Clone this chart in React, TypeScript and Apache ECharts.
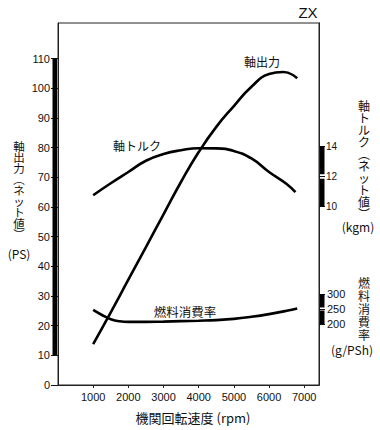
import React, { useEffect, useRef } from "react";
import * as echarts from "echarts";

// ---- data ----
const rpmTicks = [1000, 2000, 3000, 4000, 5000, 6000, 7000];
const powerTicks = [0, 10, 20, 30, 40, 50, 60, 70, 80, 90, 100, 110];
const torqueTicks = [10, 12, 14];
const fuelTicks = [200, 250, 300];

// 軸出力 (PS)
const powerData: [number, number][] = [
  [1000, 13.8], [1500, 24.5], [2000, 35.5], [2500, 46.5], [3000, 57.5],
  [3500, 68.5], [4000, 78.5], [4500, 87], [5000, 94], [5500, 100.5],
  [6000, 104.8], [6400, 105.5], [6800, 103.4],
];
// 軸トルク (kgm)
const torqueData: [number, number][] = [
  [1000, 10.75], [1500, 11.55], [2000, 12.3], [2500, 13.05], [3000, 13.5],
  [3500, 13.75], [4000, 13.88], [4500, 13.87], [5000, 13.7], [5500, 13.2],
  [6000, 12.3], [6500, 11.5], [6750, 10.95],
];
// 燃料消費率 (g/PSh)
const fuelData: [number, number][] = [
  [1000, 247], [1250, 230], [1500, 216], [1750, 209], [2000, 207],
  [2500, 207], [3000, 208], [3500, 209.5], [4000, 211], [4500, 213],
  [5000, 217], [5500, 224], [6000, 233], [6500, 244], [6800, 252],
];

// axis extents
const X_MIN = 0;
const X_MAX = 7420;
const POWER_RANGE = [0, 122];
const TORQUE_RANGE = [-1.9, 22.23];
const FUEL_RANGE = [-3.33, 1203.33];

// thick scale bars beside the axes: [x, from, to, side]
const powerBar = [[X_MIN, 10, 110, -1]];
const torqueBars = [[X_MAX, 10, 11.85, 1], [X_MAX, 12.15, 14, 1]];
const fuelBars = [[X_MAX, 200, 245, 1], [X_MAX, 255, 300, 1]];

const NUM_FONT = "'Liberation Sans', Arial, sans-serif";
const JP_FONT = "'Noto Sans CJK JP', 'Noto Sans', sans-serif";

function txt(text: string, x: number, y: number, size: number, font = JP_FONT) {
  return {
    type: "text",
    x,
    y,
    style: {
      text,
      fill: "#111",
      fontSize: size,
      fontFamily: font,
      align: "center",
      verticalAlign: "middle",
      textAlign: "center",
      textVerticalAlign: "middle",
    },
  };
}

function column(chars: string[], x: number, top: number, lineHeight: number, size: number) {
  return {
    type: "text",
    x,
    y: top,
    style: {
      text: chars.join("\n"),
      fill: "#111",
      fontSize: size,
      fontFamily: JP_FONT,
      lineHeight,
      align: "center",
      verticalAlign: "top",
      textAlign: "center",
      textVerticalAlign: "top",
    },
  };
}

const renderBar = (params: any, api: any) => {
  const x = api.value(0);
  const y0 = api.value(1);
  const y1 = api.value(2);
  const side = api.value(3);
  const p0 = api.coord([x, y0]);
  const p1 = api.coord([x, y1]);
  return {
    type: "rect",
    shape: {
      x: side < 0 ? p0[0] - 5.5 : p0[0] + 1,
      y: p1[1],
      width: 4.5,
      height: p0[1] - p1[1],
    },
    style: { fill: "#000" },
  };
};

export default function App() {
  const ref = useRef<HTMLDivElement>(null);

  useEffect(() => {
    document.body.style.margin = "0";
    const chart = echarts.init(ref.current!, null, { renderer: "svg" });

    const axisText = { color: "#111", fontFamily: NUM_FONT, formatter: (v: number) => String(v) };

    const option: any = {
      animation: false,
      backgroundColor: "#fff",
      grid: {
        left: 58,
        right: 61,
        top: 23,
        bottom: 45,
        show: true,
        borderColor: "#222",
        borderWidth: 1,
        containLabel: false,
        outerBoundsMode: "none",
      },
      xAxis: {
        type: "value",
        min: X_MIN,
        max: X_MAX,
        axisLine: { show: true, lineStyle: { color: "#222", width: 1 } },
        axisTick: { show: true, customValues: rpmTicks, length: 3, lineStyle: { color: "#222" } },
        axisLabel: { ...axisText, fontSize: 11, margin: 6, customValues: rpmTicks },
        splitLine: { show: false },
      },
      yAxis: [
        {
          type: "value",
          position: "left",
          min: POWER_RANGE[0],
          max: POWER_RANGE[1],
          axisLine: { show: true, lineStyle: { color: "#222", width: 1 } },
          axisTick: { show: true, customValues: powerTicks, length: 7, lineStyle: { color: "#111" } },
          axisLabel: { ...axisText, fontSize: 11, margin: 8, customValues: powerTicks },
          splitLine: { show: false },
        },
        {
          type: "value",
          position: "right",
          min: TORQUE_RANGE[0],
          max: TORQUE_RANGE[1],
          axisLine: { show: true, lineStyle: { color: "#222", width: 1 } },
          axisTick: { show: true, customValues: torqueTicks, length: 6, lineStyle: { color: "#111" } },
          axisLabel: { ...axisText, fontSize: 10, margin: 7, customValues: torqueTicks },
          splitLine: { show: false },
        },
        {
          type: "value",
          position: "right",
          min: FUEL_RANGE[0],
          max: FUEL_RANGE[1],
          axisLine: { show: true, lineStyle: { color: "#222", width: 1 } },
          axisTick: { show: true, customValues: fuelTicks, length: 6, lineStyle: { color: "#111" } },
          axisLabel: { ...axisText, fontSize: 11, margin: 8, customValues: fuelTicks },
          splitLine: { show: false },
        },
      ],
      series: [
        {
          name: "軸出力",
          type: "line",
          yAxisIndex: 0,
          data: powerData,
          smooth: true,
          symbol: "none",
          lineStyle: { color: "#000", width: 2.6 },
        },
        {
          name: "軸トルク",
          type: "line",
          yAxisIndex: 1,
          data: torqueData,
          smooth: true,
          symbol: "none",
          lineStyle: { color: "#000", width: 2.6 },
        },
        {
          name: "燃料消費率",
          type: "line",
          yAxisIndex: 2,
          data: fuelData,
          smooth: true,
          symbol: "none",
          lineStyle: { color: "#000", width: 2.6 },
        },
        {
          type: "custom",
          yAxisIndex: 0,
          clip: false,
          silent: true,
          encode: { x: 0, y: [1, 2] },
          data: powerBar,
          renderItem: renderBar,
        },
        {
          type: "custom",
          yAxisIndex: 1,
          clip: false,
          silent: true,
          encode: { x: 0, y: [1, 2] },
          data: torqueBars,
          renderItem: renderBar,
        },
        {
          type: "custom",
          yAxisIndex: 2,
          clip: false,
          silent: true,
          encode: { x: 0, y: [1, 2] },
          data: fuelBars,
          renderItem: renderBar,
        },
      ],
      graphic: [
        txt("ZX", 308, 12, 15, NUM_FONT),
        txt("軸出力", 262, 61, 12),
        txt("軸トルク", 137, 145, 12),
        txt("燃料消費率", 185, 311, 12.5),
        txt("機関回転速度 (rpm)", 193, 417, 13),
        column(["軸", "出", "力", "︵", "ネ", "ッ", "ト", "値", "︶"], 19, 140, 11, 11.5),
        txt("(PS)", 19, 253, 12),
        column(["軸", "ト", "ル", "ク", "︵", "ネ", "ッ", "ト", "値", "︶"], 364, 99, 12, 12),
        txt("(kgm)", 358, 226, 12),
        column(["燃", "料", "消", "費", "率"], 364, 275.5, 13.2, 12),
        txt("(g/PSh)", 352, 349, 12),
      ],
    };

    chart.setOption(option);
    return () => chart.dispose();
  }, []);

  return <div ref={ref} style={{ width: 380, height: 430 }} />;
}
